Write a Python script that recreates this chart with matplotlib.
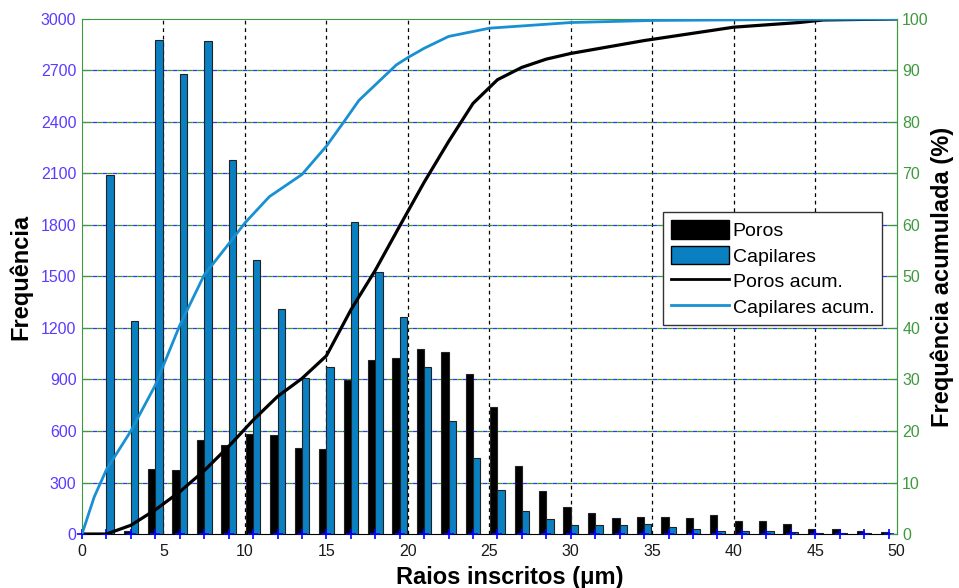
import matplotlib
matplotlib.use("Agg")
import matplotlib.pyplot as plt
from matplotlib.patches import Patch
from matplotlib.lines import Line2D

plt.rcParams['font.family'] = ['Liberation Sans', 'DejaVu Sans']

# bin centres (um)
raios = [0, 1.5, 3, 4.5, 6, 7.5, 9, 10.5, 12, 13.5, 15, 16.5, 18, 19.5, 21, 22.5,
         24, 25.5, 27, 28.5, 30, 31.5, 33, 34.5, 36, 37.5, 39, 40.5, 42, 43.5,
         45, 46.5, 48, 49.5]
poros = [0, 0, 20, 380, 373, 546, 517, 584, 577, 503, 493, 897, 1015, 1023, 1076,
         1062, 934, 742, 396, 252, 159, 122, 93, 101, 101, 93, 109, 78, 78, 56,
         31, 31, 17, 10]
capilares = [0, 2090, 1240, 2880, 2680, 2870, 2178, 1598, 1311, 907, 971, 1816,
             1528, 1264, 975, 660, 441, 256, 136, 89, 52, 52, 52, 57, 39, 31, 17,
             17, 17, 10, 8, 6, 5, 3]

# cumulative curves (%)
poros_acum_x = [0, 1.5, 3, 4.5, 6, 7.5, 9, 10.5, 12, 13.5, 15, 16.5, 18, 19.5, 21,
                22.5, 24, 25.5, 27, 28.5, 30, 34.5, 40, 44, 45.5, 50]
poros_acum = [0, 0, 1.7, 4.7, 8.2, 12.3, 17.0, 22.1, 26.7, 30.2, 34.6, 43.5, 51.2,
              59.8, 68.3, 76.2, 83.6, 88.2, 90.6, 92.2, 93.3, 95.8, 98.4, 99.3,
              99.8, 100]
cap_acum_x = [0, 0.75, 1.5, 3, 4.5, 6, 7.5, 9, 10, 11.5, 13.5, 15, 16, 17, 19.3, 20,
              21, 22.5, 25, 30, 35, 44, 50]
cap_acum = [0, 7.2, 12.5, 20.0, 28.9, 40.5, 50.3, 56.3, 60.4, 65.5, 69.8, 75.3,
            79.7, 84.2, 91.1, 92.5, 94.3, 96.6, 98.2, 99.3, 99.7, 99.9, 100]

left_ticks = list(range(0, 3001, 300))
right_ticks = list(range(0, 101, 10))
x_ticks = list(range(0, 51, 5))

BLUE_BAR = '#0a80c2'
BLUE_LINE = '#1890d2'
LEFT_C = '#5a3cff'
GREEN = '#3f9a3f'

fig = plt.figure(figsize=(9.59, 5.88), dpi=100)
ax = fig.add_axes([0.0855, 0.0918, 0.8495, 0.876])
ax2 = ax.twinx()

w = 0.45
ax.bar([r - w / 2 for r in raios], poros, width=w, color='black',
       edgecolor='#222222', linewidth=0.8, zorder=3)
ax.bar([r + w / 2 for r in raios], capilares, width=w, color=BLUE_BAR,
       edgecolor='#222222', linewidth=0.8, zorder=3)
ax.plot(raios, [0] * len(raios), linestyle='none', marker='+', color='blue',
        markersize=7, mew=1.2, zorder=5, clip_on=False)

ax.set_xlim(0, 50)
ax.set_ylim(0, 3000)
ax.set_xticks(x_ticks)
ax.set_yticks(left_ticks)

# grids: vertical black, horizontal blue and green dashes interleaved
for xv in x_ticks[1:-1]:
    ax.axvline(xv, color='black', lw=0.9, linestyle=(0, (3, 3)), zorder=1)
for yv in left_ticks[1:-1]:
    ax.axhline(yv, color='#3333ff', lw=0.9, linestyle=(0, (4, 4)), zorder=1)
    ax.axhline(yv, color='#2e9a2e', lw=0.9, linestyle=(4, (4, 4)), zorder=1)

ax.tick_params(axis='y', colors=GREEN, labelcolor=LEFT_C, direction='in',
               length=5, labelsize=11.5, pad=4)
ax.tick_params(axis='x', direction='in', length=0, labelsize=11.5, pad=7,
               labelcolor='#1a1a1a')
ax.spines['left'].set_color(GREEN)
ax.spines['top'].set_color(GREEN)
ax.spines['bottom'].set_color('black')
ax.spines['right'].set_color(GREEN)

ax2.plot(poros_acum_x, poros_acum, color='black', lw=2.3, zorder=4)
ax2.plot(cap_acum_x, cap_acum, color=BLUE_LINE, lw=2.0, zorder=4)
ax2.set_ylim(0, 100)
ax2.set_yticks(right_ticks)
ax2.tick_params(axis='y', colors=GREEN, labelcolor=GREEN, direction='in',
                length=5, labelsize=11.5, pad=4)
for s in ax2.spines.values():
    s.set_visible(False)
ax2.spines['right'].set_visible(True)
ax2.spines['right'].set_color(GREEN)

ax.set_xlabel('Raios inscritos (μm)', fontsize=17, fontweight='bold', labelpad=5)
ax.xaxis.label.set_x(0.525)
ax.set_ylabel('Frequência', fontsize=17, fontweight='bold', labelpad=6)
ax2.set_ylabel('Frequência acumulada (%)', fontsize=17, fontweight='bold',
               labelpad=1)

handles = [Patch(facecolor='black', edgecolor='black'),
           Patch(facecolor=BLUE_BAR, edgecolor='black'),
           Line2D([], [], color='black', lw=2),
           Line2D([], [], color=BLUE_LINE, lw=2)]
labels = ['Poros', 'Capilares', 'Poros acum.', 'Capilares acum.']
leg = ax2.legend(handles, labels, loc='upper left', bbox_to_anchor=(0.713, 0.625),
                 fontsize=14, fancybox=False, framealpha=1, edgecolor='#333333',
                 borderpad=0.4, labelspacing=0.3, handlelength=3.0,
                 handleheight=1.1, handletextpad=0.2, borderaxespad=0)
leg.get_frame().set_linewidth(1.0)
leg.set_zorder(10)

fig.savefig('out.png', dpi=100)
